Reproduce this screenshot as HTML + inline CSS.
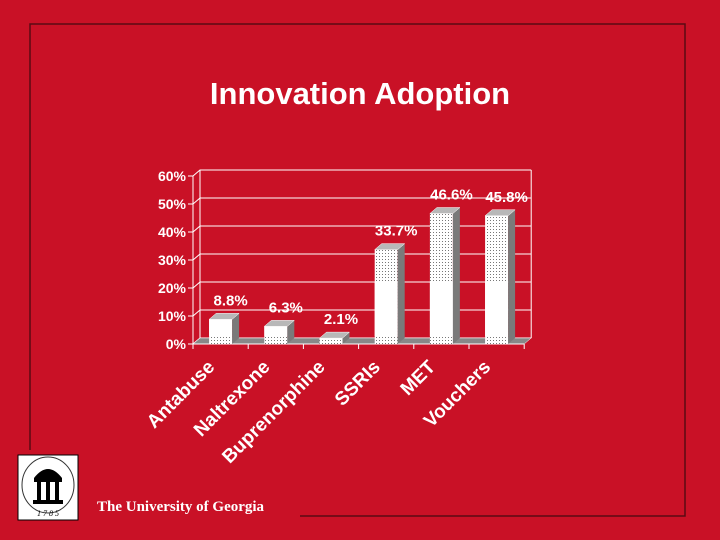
<!DOCTYPE html>
<html><head><meta charset="utf-8"><style>
html,body{margin:0;padding:0;background:#c91126;}
svg{display:block}
</style></head><body>
<svg width="720" height="540" viewBox="0 0 720 540" xmlns="http://www.w3.org/2000/svg">
<defs>
<pattern id="dots" width="3" height="3" patternUnits="userSpaceOnUse">
<rect width="3" height="3" fill="#fff"/><rect x="1" y="1" width="1" height="1" fill="#777"/>
</pattern>
</defs>
<rect width="720" height="540" fill="#c91126"/>
<g stroke="#5a0a14" stroke-width="1.5" fill="none">
<polyline points="30,450 30,24 685,24 685,516 300,516"/>
</g>
<text x="360" y="104" text-anchor="middle" font-family="Liberation Sans, sans-serif" font-weight="bold" font-size="31" fill="#fff">Innovation Adoption</text>
<g id="chart"></g>
<g>
<rect x="18" y="455" width="60" height="65" fill="#fff" stroke="#000" stroke-width="1"/>
<ellipse cx="48" cy="485" rx="26" ry="28" fill="none" stroke="#333" stroke-width="1"/>
<path d="M34,478 Q48,460 62,478 Z" fill="#000"/>
<rect x="34" y="478" width="28" height="4" fill="#000"/>
<rect x="37" y="482" width="4" height="18" fill="#000"/><rect x="46" y="482" width="4" height="18" fill="#000"/><rect x="55" y="482" width="4" height="18" fill="#000"/>
<rect x="33" y="500" width="30" height="4" fill="#000"/>
<text x="48" y="516" text-anchor="middle" font-family="Liberation Serif, serif" font-style="italic" font-size="8" fill="#000">1 7 8 5</text>
</g>
<text x="97" y="511" font-family="Liberation Serif, serif" font-weight="bold" font-size="15" fill="#fff">The University of Georgia</text>
</svg>
<script>
const categories = ["Antabuse","Naltrexone","Buprenorphine","SSRIs","MET","Vouchers"];
const values = [8.8, 6.3, 2.1, 33.7, 46.6, 45.8];
const valueLabels = ["8.8%","6.3%","2.1%","33.7%","46.6%","45.8%"];
const yTicks = [0,10,20,30,40,50,60];

const NS="http://www.w3.org/2000/svg";
const g=document.getElementById('chart');
const x0=193, catW=55.2, y0=344, pxPer=2.8, dx=7, dy=-6, barW=23;
const yS=v=>y0-v*pxPer;
const xC=i=>x0+catW*(i+0.5);
function mk(t,a,p){const e=document.createElementNS(NS,t);for(const k in a)e.setAttribute(k,a[k]);(p||g).appendChild(e);return e;}
const xEnd=x0+catW*categories.length;
yTicks.forEach(v=>{
  const gl=mk('polyline',{points:`${x0},${yS(v)} ${x0+dx},${yS(v)+dy} ${xEnd+dx},${yS(v)+dy}`,fill:'none',stroke:'#fff','stroke-width':1});
  
  
  const tk=mk('line',{x1:x0-5,y1:yS(v),x2:x0,y2:yS(v),stroke:'#fff'});
  
  
  const tl=mk('text',{x:x0-7,y:yS(v)+5,'text-anchor':'end','font-family':'Liberation Sans, sans-serif','font-weight':'bold','font-size':14,fill:'#fff'});
  tl.textContent=v+'%';
  
  
});
const wl=mk('line',{x1:x0+dx,y1:yS(0)+dy,x2:x0+dx,y2:yS(60)+dy,stroke:'#fff'});


const wr=mk('line',{x1:xEnd+dx,y1:yS(0)+dy,x2:xEnd+dx,y2:yS(60)+dy,stroke:'#fff'});


const ax=mk('line',{x1:x0,y1:yS(0),x2:x0,y2:yS(60),stroke:'#fff'});


const fl=mk('polygon',{points:`${x0},${y0} ${x0+dx},${y0+dy} ${xEnd+dx},${y0+dy} ${xEnd},${y0}`,fill:'#888',stroke:'#fff','stroke-width':0.5});


const xa=mk('line',{x1:x0,y1:y0,x2:xEnd,y2:y0,stroke:'#fff'});


for(let i=0;i<=categories.length;i++){
  const t=mk('line',{x1:x0+catW*i,y1:y0,x2:x0+catW*i,y2:y0+5,stroke:'#fff'});
  
  
}
categories.forEach((c,i)=>{
  const v=values[i], xl=xC(i)-barW/2, xr=xl+barW, yt=yS(v);
  const bg=mk('g',{});
  
  
  const split=yS(Math.min(v,22));
  mk('rect',{x:xl,y:yt,width:barW,height:y0-yt,fill:'url(#dots)'},bg);
  mk('rect',{x:xl,y:split,width:barW,height:Math.max(0,y0-split-8),fill:'#fff'},bg);
  mk('polygon',{points:`${xr},${y0} ${xr+dx},${y0+dy} ${xr+dx},${yt+dy} ${xr},${yt}`,fill:'#7a7a7a'},bg);
  mk('polygon',{points:`${xl},${yt} ${xl+dx},${yt+dy} ${xr+dx},${yt+dy} ${xr},${yt}`,fill:'#b8b8b8',stroke:'#fff','stroke-width':0.5},bg);
  const vl=mk('text',{x:xC(i)+10,y:yt-14,'text-anchor':'middle','font-family':'Liberation Sans, sans-serif','font-weight':'bold','font-size':15,fill:'#fff'});
  vl.textContent=valueLabels[i];
  
  
  const ex=xC(i)-5, ey=368;
  const cl=mk('text',{x:ex,y:ey,'text-anchor':'end',transform:`rotate(-45 ${ex} ${ey})`,'font-family':'Liberation Sans, sans-serif','font-weight':'bold','font-size':19,fill:'#fff'});
  cl.textContent=c;
  
  
});
</script>
</body></html>
